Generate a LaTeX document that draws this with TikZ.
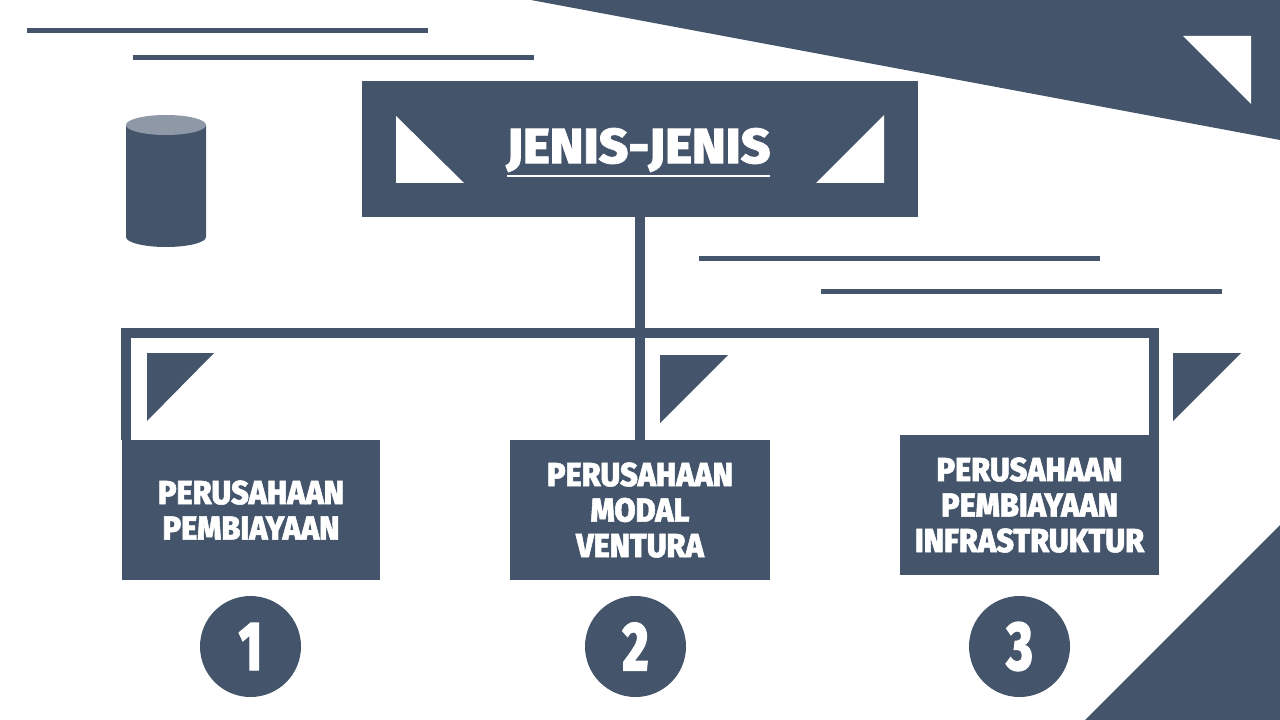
\documentclass[tikz,border=0pt]{standalone}
\usepackage{fontspec}
\usetikzlibrary{backgrounds}
\setmainfont[BoldFont={Fira Sans ExtraBold},BoldFeatures={FakeBold=1.6},FakeStretch=0.92]{Fira Sans}
\definecolor{slate}{HTML}{44546A}
\definecolor{slatelight}{HTML}{8F98A6}
\tikzset{
    x=0.75pt,y=-0.75pt,
    box/.style={fill=slate,text=white,align=center,inner sep=0pt,font=\fontsize{25}{26.6}\selectfont\bfseries},
    badge/.style={circle,fill=slate,text=white,inner sep=0pt,minimum size=75.75pt,font=\fontsize{52}{52}\selectfont\bfseries\addfontfeature{FakeStretch=0.72}},
    bus/.style={draw=slate,line width=7.5pt},
    rule/.style={draw=slate,line width=3.75pt},
}
\begin{document}
\begin{tikzpicture}
    \useasboundingbox (0,0) rectangle (1280,720);
    % corners
    \fill[slate] (531,0)--(1280,0)--(1280,140)--cycle;
    \fill[white] (1183,36)--(1251,36)--(1251,104)--cycle;
    \fill[slate] (1280,525)--(1280,720)--(1085,720)--cycle;
    % rules
    \draw[rule] (27,30.5)--(428,30.5);
    \draw[rule] (133,58)--(534,58);
    \draw[rule] (699,258.5)--(1100,258.5);
    \draw[rule] (821,291)--(1222,291);
    % cylinder
    \fill[slate] (126,125)--(126,237) arc[start angle=180,end angle=360,x radius=30pt,y radius=7.5pt]--(206,125)--cycle;
    \fill[slatelight] (166,125) ellipse[x radius=30pt,y radius=7.5pt];
    % boxes
    \node[box,minimum width=417pt,minimum height=102pt] (title) at (640,149) {};
    \node[box,minimum width=193.5pt,minimum height=105pt] (boxA) at (251,510) {PERUSAHAAN\\PEMBIAYAAN};
    \node[box,minimum width=195pt,minimum height=105pt] (boxB) at (640,510) {PERUSAHAAN\\MODAL\\VENTURA};
    \node[box,minimum width=194.25pt,minimum height=105pt] (boxC) at (1029.5,505) {PERUSAHAAN\\PEMBIAYAAN\\INFRASTRUKTUR};
    \node[text=white,inner sep=0pt,font=\fontsize{37}{37}\selectfont\bfseries\addfontfeature{FakeStretch=1.04}] (titletext) at (638.5,150) {JENIS-JENIS};
    \coordinate (ruleL) at (507,176);
    \coordinate (ruleR) at (770,176);
    \draw[white,line width=2.2pt] (ruleL)--(ruleR);
    \fill[white] (396,116)--(396,183)--(464,183)--cycle;
    \fill[white] (884,115)--(884,183)--(816,183)--cycle;
    % connectors
    \coordinate (busL) at (126,333);
    \coordinate (busR) at (1154,333);
    \begin{scope}[on background layer]
        \draw[bus] (title)--(boxB);
        \draw[bus] (boxA.north -| busL)--(busL)--(busR)--(boxC.north -| busR);
    \end{scope}
    % small triangles
    \fill[slate] (147,353)--(214,353)--(147,421)--cycle;
    \fill[slate] (660,355)--(728,355)--(660,423)--cycle;
    \fill[slate] (1173,353)--(1241,353)--(1173,421)--cycle;
    % numbers
    \node[badge] (one) at (250.5,646.5) {1};
    \node[badge] (two) at (635.5,646.5) {2};
    \node[badge] (three) at (1019.5,646.5) {3};
\end{tikzpicture}
\end{document}
